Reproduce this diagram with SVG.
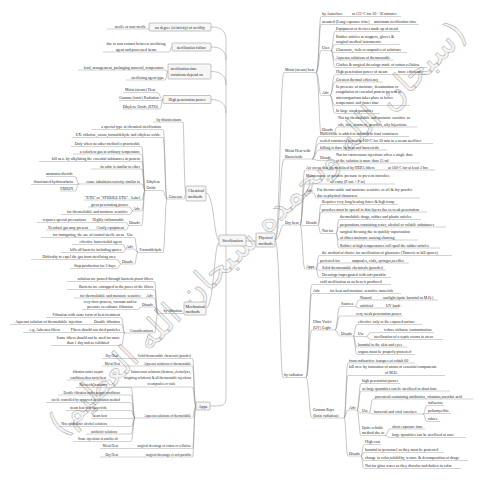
<svg xmlns="http://www.w3.org/2000/svg" width="480" height="480" viewBox="0 0 480 480">
<style>
.t{font-family:"Liberation Serif","Times New Roman",serif;font-size:3.9px;fill:#2a2a2a}
.e{text-anchor:end}.m{text-anchor:middle}
.s{font-size:3.4px}
.h{font-size:4.2px}
.u{stroke:#9a9a9a;stroke-width:.45;fill:none}
.c{stroke:#8c8c8c;stroke-width:.5;fill:none}
.b{fill:#f6f6f6;stroke:#8a8a8a;stroke-width:.5}
.w{font-family:"DejaVu Sans",sans-serif;font-size:34px;fill:#d0d0d0;fill-opacity:.22;stroke:#a6a6a6;stroke-width:.5}
</style>
<rect width="480" height="480" fill="#fff"/>
<text class="w" transform="translate(257,228) rotate(-44.7)" text-anchor="middle" dy="12">(سبحان الله وبحمده سبحان الله العظيم)</text>

<g id="connectors">
<path class="c" d="M246,241H256"/>
<path class="c" d="M275,240C280,240 280,72.5 284,72.5M275,240C280,240 280,159 284,159M275,240C280,240 280,225 284,225M275,240C280,240 280,377.5 283,377.5"/>
<path class="c" d="M316,72.5C319,72.5 319,16.5 321,16.5M316,72.5C319,72.5 319,24.5 321,24.5M316,72.5C319,72.5 319,50.5 321,50.5M316,72.5C319,72.5 319,95.5 321,95.5M316,72.5C319,72.5 319,132.5 321,132.5"/>
<path class="c" d="M331,50.5C333,50.5 333,31.5 335,31.5M331,50.5C333,50.5 333,44.5 335,44.5M331,50.5C333,50.5 333,52.5 335,52.5M331,50.5C333,50.5 333,60 335,60M331,50.5C333,50.5 333,67.5 335,67.5"/>
<path class="c" d="M330,95.5C332.5,95.5 332.5,74.5 335,74.5M330,95.5C332.5,95.5 332.5,82 335,82M330,95.5C332.5,95.5 332.5,105.5 335,105.5M330,95.5C332.5,95.5 332.5,113.5 335,113.5"/>
<path class="c" d="M334,132.5C335.5,132.5 335.5,127 337,127"/>
<path class="c" d="M312,159C315.5,159 315.5,136.5 319,136.5M312,159C315.5,159 315.5,143.5 319,143.5M312,159C315.5,159 315.5,150 319,150M312,159C315.5,159 315.5,160.5 319,160.5"/>
<path class="c" d="M333,160.5C334,160.5 334,163 335,163"/>
<path class="c" d="M300,225C302.5,225 302.5,170 305,170M300,225C302.5,225 302.5,184 305,184M300,225C302.5,225 302.5,193 305,193M300,225C302.5,225 302.5,225.5 305,225.5M300,225C302.5,225 302.5,269 305,269"/>
<path class="c" d="M314,193C315,193 315,198 316,198"/>
<path class="c" d="M318,225.5C319.5,225.5 319.5,204.5 321,204.5M318,225.5C319.5,225.5 319.5,212 321,212M318,225.5C319.5,225.5 319.5,233.5 321,233.5"/>
<path class="c" d="M336,233.5C337.5,233.5 337.5,219.5 339,219.5M336,233.5C337.5,233.5 337.5,227 339,227M336,233.5C337.5,233.5 337.5,240 339,240M336,233.5C337.5,233.5 337.5,248 339,248"/>
<path class="c" d="M316,269C317.5,269 317.5,255.5 319,255.5M316,269C317.5,269 317.5,263 319,263M316,269C317.5,269 317.5,270 319,270M316,269C317.5,269 317.5,277.5 319,277.5"/>
<path class="c" d="M306,377.5C309,377.5 309,284.5 312,284.5M306,377.5C309,377.5 309,293.5 312,293.5M306,377.5C309,377.5 309,330 312,330M306,377.5C309,377.5 309,418 312,418"/>
<path class="c" d="M335,330C337.5,330 337.5,306.5 340,306.5M335,330C337.5,330 337.5,316 340,316M335,330C337.5,330 337.5,336 340,336"/>
<path class="c" d="M355,306.5C357,306.5 357,300 359,300M355,306.5C357,306.5 357,308 359,308"/>
<path class="c" d="M353,336C355,336 355,324.5 357,324.5M353,336C355,336 355,336.5 357,336.5M353,336C355,336 355,347 357,347M353,336C355,336 355,354.5 357,354.5"/>
<path class="c" d="M366,336.5C368.5,336.5 368.5,332.5 371,332.5M366,336.5C368.5,336.5 368.5,339.5 371,339.5"/>
<path class="c" d="M344,418C346,418 346,363 348,363M344,418C346,418 346,375.5 348,375.5M344,418C346,418 346,410 348,410M344,418C346,418 346,456 348,456"/>
<path class="c" d="M357,410C359,410 359,383.5 361,383.5M357,410C359,410 359,391 361,391M357,410C359,410 359,413 361,413M357,410C359,410 359,435.5 361,435.5"/>
<path class="c" d="M369,413C371,413 371,399 373,399M369,413C371,413 371,414 373,414"/>
<path class="c" d="M423,414C425,414 425,405.5 427,405.5M423,414C425,414 425,413.5 427,413.5M423,414C425,414 425,421.5 427,421.5"/>
<path class="c" d="M385,435.5C387.5,435.5 387.5,429 390,429M385,435.5C387.5,435.5 387.5,437.5 390,437.5"/>
<path class="c" d="M361,456C362.5,456 362.5,444.5 364,444.5M361,456C362.5,456 362.5,452.5 364,452.5M361,456C362.5,456 362.5,460.5 364,460.5M361,456C362.5,456 362.5,468.5 364,468.5"/>
<path class="c" d="M211,27C220,27 226,30 226,40M211,47C220,47 226,50 226,60M211,71.5C220,71.5 226,75 226,85M211,99.5C220,99.5 226,103 226,113M226,40V235"/>
<path class="c" d="M169,52C171,52 170,47 172,47M165,70C166.5,70 166.5,71.5 168,71.5M165,80C166.5,80 166.5,71.5 168,71.5M157,92.5C160,92.5 160,99.5 163,99.5M161,100.5C162,100.5 162,99.5 163,99.5M160,109C161.5,109 161.5,99.5 163,99.5"/>
<path class="c" d="M206,193C214,193 214,240 219,240M206,308C214,308 214,243 219,243M210,406C226,406 226,406 226,392V246"/>
<path class="c" d="M186,193.5C184,193.5 184,122 183,122M186,193.5C185,193.5 185,199 184,199"/>
<path class="c" d="M167,199C165,199 165,129.5 163,129.5M167,199C165,199 165,137.5 163,137.5M167,199C165,199 165,190.5 162,190.5M167,199C165,199 165,252.5 163,252.5"/>
<path class="c" d="M145,190.5C143.5,190.5 143.5,146.5 141.5,146.5M145,190.5C143.5,190.5 143.5,154 141.5,154M145,190.5C143.5,190.5 143.5,161.5 141.5,161.5M145,190.5C143.5,190.5 143.5,169 141.5,169M145,190.5C143.5,190.5 143.5,184 141.5,184M145,190.5C143.5,190.5 143.5,200 141.5,200M145,190.5C143.5,190.5 143.5,211 141.5,211M145,190.5C143.5,190.5 143.5,225.5 141.5,225.5"/>
<path class="c" d="M79,184C77,184 77,176.5 75,176.5M79,184C77,184 77,184.5 75,184.5M79,184C77,184 77,191 75,191"/>
<path class="c" d="M133,211C131.2,211 131.2,207 129.5,207M133,211C131.2,211 131.2,214.5 129.5,214.5M129,225.5C127.5,225.5 127.5,222.5 126,222.5M129,225.5C127.5,225.5 127.5,230 126,230"/>
<path class="c" d="M138,252.5C136,252.5 136,237.5 134.5,237.5M138,252.5C136,252.5 136,249 134.5,249M138,252.5C136,252.5 136,264 134.5,264"/>
<path class="c" d="M126,249C124.5,249 124.5,244.5 123,244.5M126,249C124.5,249 124.5,252.5 123,252.5M121,264C119,264 119,259.5 117,259.5M121,264C119,264 119,268.5 117,268.5"/>
<path class="c" d="M158,313.5C156,313.5 156,281.5 154.5,281.5M158,313.5C156,313.5 156,289.5 154.5,289.5M158,313.5C156,313.5 156,298 154.5,298M158,313.5C156,313.5 156,307 154.5,307M158,313.5C156,313.5 156,333 154.5,333"/>
<path class="c" d="M141,307C139.5,307 139.5,309.5 138,309.5M125,333C123,333 123,317.5 121.5,317.5M125,333C123,333 123,324.5 121.5,324.5M125,333C123,333 123,332.5 121.5,332.5M125,333C123,333 123,345.5 121.5,345.5"/>
<path class="c" d="M196,406C194,406 194,358.5 192.5,358.5M196,406C194,406 194,366 192.5,366M196,406C194,406 194,387 192.5,387M196,406C194,406 194,418 192.5,418M196,406C194,406 194,448.5 192.5,448.5M196,406C194,406 194,457 192.5,457"/>
<path class="c" d="M116,387C112.5,387 112.5,380 109,380"/>
<path class="c" d="M135,418C133,418 133,387.5 131,387.5M135,418C133,418 133,395 131,395M135,418C133,418 133,402.5 131,402.5M135,418C133,418 133,410.5 131,410.5M135,418C133,418 133,418.5 131,418.5M135,418C133,418 133,426.5 131,426.5M135,418C133,418 133,434 131,434M135,418C133,418 133,441.5 131,441.5"/>
</g>

<g id="sterilization"><rect class="b" x="219" y="235" width="27" height="11" rx="1"/><text class="t h m" x="232.5" y="242.3">Sterilization</text></g>
<g id="physical"><rect class="b" x="256" y="233" width="19" height="14" rx="1"/><text class="t h m" x="265.5" y="239">Physical</text><text class="t h m" x="265.5" y="244.5">methods</text></g>
<g id="chemical"><rect class="b" x="186" y="186" width="20" height="15" rx="1"/><text class="t h" x="188" y="192">Chemical</text><text class="t h" x="188" y="198">methods</text></g>
<g id="mechanical"><rect class="b" x="184" y="302" width="22" height="13" rx="1"/><text class="t h" x="185.5" y="307.5">Mechanical</text><text class="t h" x="185.5" y="313">methods</text></g>
<g id="apps"><rect class="b" x="196" y="402" width="14" height="8" rx="1"/><text class="t h m" x="203" y="407.5">Apps</text></g>

<g id="relativity"><rect class="b" x="149" y="23" width="62" height="8" rx="1"/><text class="t m" x="180" y="28.5">no degree (relativity) of sterility</text></g>
<g id="n-sterile"><path class="u" d="M107,29H149"/><text class="t e" x="146" y="27.5">sterile or non-sterile</text></g>
<g id="failure"><rect class="b" x="172" y="43" width="39" height="8" rx="1"/><text class="t m" x="191.5" y="48.5">sterilization failure</text></g>
<g id="n-contact"><path class="u" d="M103,52H169"/><text class="t m" x="136" y="45">due to non contact between sterilizing</text><text class="t m" x="136" y="50.5">agent and processed items</text></g>
<g id="timevar"><rect class="b" x="168" y="64" width="43" height="15" rx="1"/><text class="t" x="170.5" y="69.5">sterilization time</text><text class="t" x="170.5" y="76">variations depend on</text></g>
<g id="n-load"><path class="u" d="M78,70H165"/><text class="t e" x="164" y="68.5">load, arrangement, packaging material, temperature</text></g>
<g id="n-agent"><path class="u" d="M126,80H165"/><text class="t e" x="164" y="78.5">sterilizing agent type</text></g>
<g id="penetration"><rect class="b" x="163" y="95.5" width="48" height="8" rx="1"/><text class="t m" x="187" y="101">High penetration power</text></g>
<g id="n-moist"><path class="u" d="M123,92.5H157"/><text class="t e" x="155" y="91">Moist (steam) Heat</text></g>
<g id="n-gamma"><path class="u" d="M119,100.5H161"/><text class="t e" x="159" y="99">Gamma (ionic) Radiation</text></g>
<g id="n-eto"><path class="u" d="M123,109H160"/><text class="t e" x="158" y="107.5">Ethylene Oxide (ETO)</text></g>

<g id="disinfectants"><path class="u" d="M153,122H183"/><text class="t e" x="181" y="120.5">by disinfectants</text></g>
<g id="gaseous"><path class="u" d="M167,199H184"/><text class="t e" x="182" y="197.5">Gaseous</text></g>
<g id="g1"><path class="u" d="M92,129.5H163"/><text class="t e" x="161" y="128">a special type of chemical sterilization</text></g>
<g id="g2"><path class="u" d="M72,137.5H163"/><text class="t e" x="161" y="136">EX: chlorine, ozone,formaldehyde and ethylene oxide.</text></g>
<g id="ethylene"><path class="u" d="M145,190.5H162"/><text class="t" x="146.5" y="183">Ethylene</text><text class="t" x="146.5" y="189">Oxide</text></g>
<g id="e1"><path class="u" d="M71,146.5H141.5"/><text class="t e" x="140" y="145">Only when no other method is practicable</text></g>
<g id="e2"><path class="u" d="M73,154H141.5"/><text class="t e" x="140" y="152.5">a colorless gas at ordinary temperature</text></g>
<g id="e3"><path class="u" d="M39,161.5H141.5"/><text class="t e" x="140" y="160">kill m.o. by alkylating the essential substances in protein</text></g>
<g id="e4"><path class="u" d="M91,169H141.5"/><text class="t e" x="140" y="167.5">its odor is similar to ether</text></g>
<g id="e5"><path class="u" d="M79,184H141.5"/><text class="t e" x="140" y="182.5">cause inhalation toxicity similar to</text></g>
<g id="e5a"><path class="u" d="M46,176.5H75"/><text class="t e" x="73" y="175">ammonia dioxide</text></g>
<g id="e5b"><path class="u" d="M31,184.5H75"/><text class="t e" x="73" y="183">fluorinated hydrocarbons</text></g>
<g id="e5c"><path class="u" d="M60,191H75"/><text class="t e" x="73" y="189.5">FREON</text></g>
<g id="e6"><path class="u" d="M84,200H141.5"/><text class="t e" x="128" y="198.5">"ETO" or "STERILE ETO"</text><text class="t e" x="140" y="198.5">Label</text></g>
<g id="e-adv"><path class="u" d="M133,211H141.5"/><text class="t e" x="140" y="209.5">Adv</text></g>
<g id="e7"><path class="u" d="M88,207H129.5"/><text class="t e" x="128" y="205.5">great penetrating power</text></g>
<g id="e8"><path class="u" d="M61,214.5H129.5"/><text class="t e" x="128" y="213">for thermolabile and moisture sensitive</text></g>
<g id="e-dis"><path class="u" d="M129,225.5H141.5"/><text class="t e" x="140" y="224">Disadv</text></g>
<g id="e9"><path class="u" d="M37,222.5H126"/><text class="t e" x="86" y="221">requires special precautions</text><text class="t e" x="124" y="221">Highly inflammable</text></g>
<g id="e10"><path class="u" d="M46,230H126"/><text class="t e" x="88" y="228.5">Residual gas may present</text><text class="t e" x="124" y="228.5">Costly equipment</text></g>
<g id="formaldehyde"><path class="u" d="M138,252.5H163"/><text class="t e" x="162" y="251">Formaldehyde</text></g>
<g id="f-use"><path class="u" d="M41,237.5H134.5"/><text class="t e" x="124" y="236">for fumigating, the use of control sterile areas</text><text class="t e" x="133" y="236">Use</text></g>
<g id="f-adv"><path class="u" d="M126,249H134.5"/><text class="t e" x="133" y="247.5">Adv</text></g>
<g id="f1"><path class="u" d="M72,244.5H123"/><text class="t e" x="121.5" y="243">effective bactericidal agent</text></g>
<g id="f2"><path class="u" d="M61,252.5H123"/><text class="t e" x="121.5" y="251">kills all bacteria including spores</text></g>
<g id="f-dis"><path class="u" d="M121,264H134.5"/><text class="t e" x="133" y="262.5">Disadv</text></g>
<g id="f3"><path class="u" d="M31,259.5H117"/><text class="t e" x="115.5" y="258">Difficulty to expel the gas from sterilizing area</text></g>
<g id="f4"><path class="u" d="M70,268.5H117"/><text class="t e" x="115.5" y="267">Stop production for 2 days</text></g>

<g id="filtration"><path class="u" d="M158,313.5H184"/><text class="t e" x="182" y="312">by filtration</text></g>
<g id="m1"><path class="u" d="M67,281.5H154.5"/><text class="t e" x="153" y="280">solution are passed through bacteria proof filters</text></g>
<g id="m2"><path class="u" d="M67,289.5H154.5"/><text class="t e" x="153" y="288">Bacteria are entrapped in the pores of the filters</text></g>
<g id="m3"><path class="u" d="M74,298H154.5"/><text class="t e" x="141" y="296.5">for thermolabile and moisture sensitive</text><text class="t e" x="153" y="296.5">Adv</text></g>
<g id="m-dis"><path class="u" d="M141,307H154.5"/><text class="t e" x="153" y="305.5">Disadv</text></g>
<g id="m4"><path class="u" d="M82,309.5H138"/><text class="t m" x="110" y="302.5">very slow process, vacuum and/or</text><text class="t m" x="110" y="308">pressure to enhance filtration</text></g>
<g id="consider"><path class="u" d="M125,333H154.5"/><text class="t e" x="153" y="331.5">Considerations</text></g>
<g id="c1"><path class="u" d="M46,317.5H121.5"/><text class="t e" x="120" y="316">Filtration with some form of heat treatment</text></g>
<g id="c2"><path class="u" d="M10,324.5H121.5"/><text class="t e" x="82" y="323">Aqueous solution of thermolabile injection</text><text class="t e" x="120" y="323">Double filtration</text></g>
<g id="c3"><path class="u" d="M23,332.5H121.5"/><text class="t e" x="60" y="331">e.g. Asbestos filters</text><text class="t e" x="120" y="331">Fibers should not shed particles</text></g>
<g id="c4"><path class="u" d="M51,345.5H121.5"/><text class="t e" x="120" y="338.5">Some filters should not be used for more</text><text class="t m" x="88" y="344">than 1 day unless validated</text></g>

<g id="a1"><path class="u" d="M102,358.5H192.5"/><text class="t s e" x="118" y="357">Dry Heat</text><text class="t s e" x="191" y="357">Solid thermostable chemicals (powder)</text></g>
<g id="a2"><path class="u" d="M102,366H192.5"/><text class="t s e" x="120" y="364.5">Moist Heat</text><text class="t s e" x="191" y="364.5">Aqueous solutions of thermostable</text></g>
<g id="a3"><path class="u" d="M116,387H192.5"/><text class="t s e" x="191" y="373">Intravenous solutions (dextrose,electrolytes,</text><text class="t s e" x="191" y="379">irrigating solutions) &amp; all thermostable injections</text><text class="t s e" x="175" y="385">in ampoules or vials</text></g>
<g id="a3a"><path class="u" d="M67,380H109"/><text class="t s m" x="88" y="372.5">filtration under aseptic</text><text class="t s m" x="88" y="378.5">conditions then moist heat</text></g>
<g id="a4"><path class="u" d="M135,418H192.5"/><text class="t s e" x="191" y="416.5">Aqueous solutions of thermolabile</text></g>
<g id="a4a"><path class="u" d="M76,387.5H131"/><text class="t s e" x="107" y="386">Not sterile container</text></g>
<g id="a4b"><path class="u" d="M58,395H131"/><text class="t s e" x="120" y="393.5">Double filtration under aseptic conditions</text></g>
<g id="a4c"><path class="u" d="M46,402.5H131"/><text class="t s e" x="120" y="401">sterile controlled by approved sterilization method</text></g>
<g id="a4d"><path class="u" d="M66,410.5H131"/><text class="t s e" x="107" y="409">steam heat with bactericide</text></g>
<g id="a4e"><path class="u" d="M91,418.5H131"/><text class="t s e" x="107" y="417">steam heat</text></g>
<g id="a4f"><path class="u" d="M59,426.5H131"/><text class="t s e" x="107" y="425">Non ophthalmic alcohol solutions</text></g>
<g id="a4g"><path class="u" d="M86,434H131"/><text class="t s e" x="117" y="432.5">antibiotic solutions</text></g>
<g id="a4h"><path class="u" d="M73,441.5H131"/><text class="t s e" x="118" y="440">Some injections in arachis oil</text></g>
<g id="a5"><path class="u" d="M100,448.5H192.5"/><text class="t s e" x="118" y="447">Moist Heat</text><text class="t s e" x="191" y="447">surgical dressings of cotton or cellulose</text></g>
<g id="a6"><path class="u" d="M100,457H192.5"/><text class="t s e" x="118" y="455.5">Dry Heat</text><text class="t s e" x="191" y="455.5">surgical dressings of soft paraffin</text></g>

<g id="moist"><path class="u" d="M284,72.5H316"/><text class="t" x="285" y="71">Moist (steam) heat</text></g>
<g id="r1"><path class="u" d="M321,16.5H401"/><text class="t" x="322" y="15">by Autoclave</text><text class="t" x="352" y="15">at 121°C for 20 - 30 minutes</text></g>
<g id="r2"><path class="u" d="M321,24.5H419"/><text class="t" x="322" y="23">steamed (Long exposure time)</text><text class="t" x="374" y="23">minimum sterilization time</text></g>
<g id="r-uses"><path class="u" d="M321,50.5H331"/><text class="t" x="322" y="49">Uses</text></g>
<g id="r3"><path class="u" d="M335,31.5H400"/><text class="t" x="336" y="30">Equipment or devices made up of metal</text></g>
<g id="r4"><path class="u" d="M335,44.5H400"/><text class="t" x="336" y="37.5">Rubber articles as stoppers, gloves &amp;</text><text class="t" x="336" y="43">surgical medical instruments</text></g>
<g id="r5"><path class="u" d="M335,52.5H407"/><text class="t" x="336" y="51">Glassware, vials or ampoules of solutions</text></g>
<g id="r6"><path class="u" d="M335,60H393"/><text class="t" x="336" y="58.5">Aqueous solutions of thermostable</text></g>
<g id="r7"><path class="u" d="M335,67.5H427"/><text class="t" x="336" y="66">Clothes &amp; surgical dressings made of cotton cellulose</text></g>
<g id="r-adv"><path class="u" d="M321,95.5H330"/><text class="t" x="322" y="94">Adv</text></g>
<g id="r8"><path class="u" d="M335,74.5H426"/><text class="t" x="336" y="73">High penetration power of steam</text><text class="t" x="398" y="73">more efficiently</text></g>
<g id="r9"><path class="u" d="M335,82H383"/><text class="t" x="336" y="80.5">Greatest thermal efficiency</text></g>
<g id="r10"><path class="u" d="M335,105.5H410"/><text class="t" x="336" y="87.5">In presence of moisture, denaturation or</text><text class="t" x="336" y="93">coagulation of essential protein present in</text><text class="t" x="336" y="98.5">microorganisms takes place at lower</text><text class="t" x="336" y="104">temperature and faster time</text></g>
<g id="r11"><path class="u" d="M335,113.5H380"/><text class="t" x="336" y="112">In large sized quantities</text></g>
<g id="r-dis"><path class="u" d="M321,132.5H334"/><text class="t" x="322" y="131">Disadv</text></g>
<g id="r12"><path class="u" d="M337,127H417"/><text class="t" x="338" y="119">Not for thermolabile and moisture sensitive as</text><text class="t" x="338" y="125.5">oils, fats, ointment, powders, oily Injections</text></g>

<g id="bactericide"><path class="u" d="M284,159H312"/><text class="t" x="285" y="152">Moist Heat with</text><text class="t" x="285" y="157.5">Bactericide</text></g>
<g id="b1"><path class="u" d="M319,136.5H409"/><text class="t" x="320" y="135">Bactericide is added to solution in final containers</text></g>
<g id="b2"><path class="u" d="M319,143.5H433"/><text class="t" x="320" y="142">sealed containers heated at 100°C for 30 min in a steam sterilizer</text></g>
<g id="b3"><path class="u" d="M319,150H387"/><text class="t" x="320" y="148.5">killing is done by heat and bactericide</text></g>
<g id="b-dis"><path class="u" d="M319,160.5H333"/><text class="t" x="320" y="159">Disadv</text></g>
<g id="b4"><path class="u" d="M335,163H420"/><text class="t" x="336" y="155.5">Not for intravenous injections when a single dose</text><text class="t" x="336" y="161.5">of the solution is more than 15 ml</text></g>

<g id="dry"><path class="u" d="M284,225H300"/><text class="t" x="285" y="223.5">Dry heat</text></g>
<g id="d1"><path class="u" d="M305,170H435"/><text class="t" x="306" y="168.5">Air ovens that are sterilized by HEPA filters</text><text class="t" x="388" y="168.5">at 160°C for at least 2 hrs</text></g>
<g id="d2"><path class="u" d="M305,184H395"/><text class="t" x="306" y="176.5">Maintenance of positive pressure to prevent microbes</text><text class="t" x="330" y="182.5">air entry (P out &gt; P in)</text></g>
<g id="d-adv"><path class="u" d="M305,193H314"/><text class="t" x="306" y="191.5">Adv</text></g>
<g id="d3"><path class="u" d="M316,198H420"/><text class="t" x="317" y="190.5">For thermo stable and moisture sensitive as oil &amp; dry powder</text><text class="t" x="317" y="196.5">due to physical characters</text></g>
<g id="d-dis"><path class="u" d="M305,225.5H318"/><text class="t" x="306" y="224">Disadv</text></g>
<g id="d4"><path class="u" d="M321,204.5H398"/><text class="t" x="322" y="203">Requires very long heating times &amp; high temp</text></g>
<g id="d5"><path class="u" d="M321,212H427"/><text class="t" x="322" y="210.5">powders must be spread in thin layers due to weak penetration</text></g>
<g id="d-notfor"><path class="u" d="M321,233.5H336"/><text class="t" x="322" y="232">Not for</text></g>
<g id="d6"><path class="u" d="M339,219.5H421"/><text class="t" x="340" y="218">thermolabile drugs, rubber and plastic articles</text></g>
<g id="d7"><path class="u" d="M339,227H446"/><text class="t" x="340" y="225.5">preparations containing water, alcohol or volatile substances</text></g>
<g id="d8"><path class="u" d="M339,240H418"/><text class="t" x="340" y="232.5">surgical dressing due to quickly vaporization</text><text class="t" x="340" y="238.5">of fibres moisture causing charring</text></g>
<g id="d9"><path class="u" d="M339,248H440"/><text class="t" x="340" y="246.5">Rubber at high temperatures will spoil the rubber articles</text></g>
<g id="d-apps"><path class="u" d="M305,269H316"/><text class="t" x="306" y="267.5">Apps</text></g>
<g id="d10"><path class="u" d="M319,255.5H452"/><text class="t" x="322" y="254">the method of choice for sterilization of glassware (Tumeric to kill spores)</text></g>
<g id="d11"><path class="u" d="M319,263H409"/><text class="t" x="320" y="261.5">preferred for</text><text class="t" x="352" y="261.5">ampoules, vials, syringes,needles</text></g>
<g id="d12"><path class="u" d="M319,270H386"/><text class="t" x="322" y="268.5">Solid thermostable chemicals (powder)</text></g>
<g id="d13"><path class="u" d="M319,277.5H391"/><text class="t" x="322" y="276">Dressings impregnated with soft paraffin</text></g>

<g id="radiation"><path class="u" d="M283,377.5H306"/><text class="t" x="284" y="376">by radiation</text></g>
<g id="x1"><path class="u" d="M312,284.5H391"/><text class="t" x="320" y="283">cold sterilization as no heat is produced</text></g>
<g id="x2"><path class="u" d="M312,293.5H401"/><text class="t" x="313" y="292">Adv</text><text class="t" x="330" y="292">for heat and moisture sensitive materials</text></g>
<g id="uv"><path class="u" d="M312,330H335"/><text class="t" x="313" y="322.5">Ultra Violet</text><text class="t" x="313" y="328.5">(UV) Light</text></g>
<g id="uv-src"><path class="u" d="M340,306.5H355"/><text class="t" x="341" y="305">Sources</text></g>
<g id="uv1"><path class="u" d="M359,300H438"/><text class="t" x="360" y="298.5">Natural</text><text class="t" x="383" y="298.5">sunlight (quite harmful to M.O.)</text></g>
<g id="uv2"><path class="u" d="M359,308H399"/><text class="t" x="360" y="306.5">artificial</text><text class="t" x="386" y="306.5">UV lamb</text></g>
<g id="uv3"><path class="u" d="M340,316H403"/><text class="t" x="356" y="314.5">very weak penetration power</text></g>
<g id="uv-dis"><path class="u" d="M340,336H353"/><text class="t" x="341" y="334.5">Disadv</text></g>
<g id="uv4"><path class="u" d="M357,324.5H422"/><text class="t" x="358" y="323">effective only to the exposed surface</text></g>
<g id="uv-use"><path class="u" d="M357,336.5H366"/><text class="t" x="358" y="335">Use</text></g>
<g id="uv5"><path class="u" d="M371,332.5H434"/><text class="t" x="384" y="331">reduce airborne contamination</text></g>
<g id="uv6"><path class="u" d="M371,339.5H443"/><text class="t" x="374" y="338">sterilization of a septic rooms in areas</text></g>
<g id="uv7"><path class="u" d="M357,347H407"/><text class="t" x="358" y="345.5">harmful to the skin and eyes</text></g>
<g id="uv8"><path class="u" d="M357,354.5H415"/><text class="t" x="358" y="353">organs must be properly protected</text></g>
<g id="gammarays"><path class="u" d="M312,418H344"/><text class="t" x="313" y="410.5">Gamma Rays</text><text class="t" x="313" y="416.5">(Ionic radiation)</text></g>
<g id="g-1"><path class="u" d="M348,363H415"/><text class="t" x="349" y="361.5">from radioactive isotopes of cobalt 60</text></g>
<g id="g-2"><path class="u" d="M348,375.5H445"/><text class="t" x="349" y="368">kill m.o. by ionization of atoms of essential components</text><text class="t" x="385" y="374">of M.O.</text></g>
<g id="g-adv"><path class="u" d="M348,410H357"/><text class="t" x="349" y="408.5">Adv</text></g>
<g id="g-3"><path class="u" d="M361,383.5H400"/><text class="t" x="362" y="382">high penetration power</text></g>
<g id="g-4"><path class="u" d="M361,391H450"/><text class="t" x="362" y="389.5">so large quantities can be sterilized at short time</text></g>
<g id="g-use"><path class="u" d="M361,413H369"/><text class="t" x="362" y="411.5">Use</text></g>
<g id="g-5"><path class="u" d="M373,399H473"/><text class="t" x="375" y="397.5">parenteral containing antibiotics, vitamins,ascorbic acid</text></g>
<g id="g-6"><path class="u" d="M373,414H423"/><text class="t" x="374" y="412.5">bacterial and viral vaccines</text></g>
<g id="g-7"><path class="u" d="M427,405.5H444"/><text class="t" x="428" y="404">influenza</text></g>
<g id="g-8"><path class="u" d="M427,413.5H451"/><text class="t" x="428" y="412">poliomyelitis</text></g>
<g id="g-9"><path class="u" d="M427,421.5H440"/><text class="t" x="428" y="420">rabies</text></g>
<g id="g-10"><path class="u" d="M361,435.5H385"/><text class="t" x="362" y="428.5">Quite reliable</text><text class="t" x="362" y="434">method due to</text></g>
<g id="g-11"><path class="u" d="M390,429H425"/><text class="t" x="392" y="427.5">short exposure time</text></g>
<g id="g-12"><path class="u" d="M390,437.5H466"/><text class="t" x="392" y="436">large quantities can be sterilized at once</text></g>
<g id="g-dis"><path class="u" d="M348,456H361"/><text class="t" x="349" y="454.5">Disadv</text></g>
<g id="g-13"><path class="u" d="M364,444.5H381"/><text class="t" x="365" y="443">High cost</text></g>
<g id="g-14"><path class="u" d="M364,452.5H444"/><text class="t" x="365" y="451">harmful to personnel so they must be protected</text></g>
<g id="g-15"><path class="u" d="M364,460.5H468"/><text class="t" x="365" y="459">change in color,solubility, texture &amp; decomposition of drugs</text></g>
<g id="g-16"><path class="u" d="M364,468.5H461"/><text class="t" x="365" y="467">Not for glass wares as they discolor and darken in color</text></g>
</svg>
